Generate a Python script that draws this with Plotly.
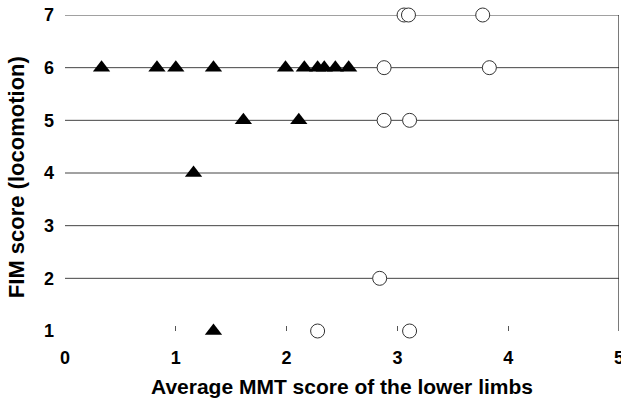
import plotly.graph_objects as go

# Triangles (filled)
tri_x = [0.33, 0.83, 1.00, 1.34, 1.99, 2.16, 2.28, 2.34, 2.44, 2.56, 1.61, 2.11, 1.16, 1.34]
tri_y = [6, 6, 6, 6, 6, 6, 6, 6, 6, 6, 5, 5, 4, 1]
# Circles (open)
cir_x = [3.06, 3.10, 3.77, 2.88, 3.83, 2.88, 3.11, 2.84, 2.28, 3.11]
cir_y = [7, 7, 7, 6, 6, 5, 5, 2, 1, 1]

x_ticks = [0, 1, 2, 3, 4, 5]
y_ticks = [1, 2, 3, 4, 5, 6, 7]
grid_y = [2, 3, 4, 5, 6, 7]

x_title = "Average MMT score of the lower limbs"
y_title = "FIM score (locomotion)"

FAM = "Liberation Sans, Arial, sans-serif"

fig = go.Figure()
for gy in grid_y:
    fig.add_shape(type="line", xref="x", yref="y", x0=0, x1=5, y0=gy, y1=gy,
                  line=dict(color="#444444", width=1), layer="below")
fig.add_shape(type="line", xref="x", yref="y", x0=5, x1=5, y0=0.97, y1=7,
              line=dict(color="#222222", width=1.2), layer="below")

fig.add_trace(go.Scatter(x=tri_x, y=tri_y, mode="markers", cliponaxis=False,
                         marker=dict(symbol="triangle-up", size=15, color="black",
                                     line=dict(width=0))))
fig.add_trace(go.Scatter(x=cir_x, y=cir_y, mode="markers", cliponaxis=False,
                         marker=dict(symbol="circle", size=14, color="white",
                                     line=dict(width=1, color="#333333"))))

fig.add_annotation(text="<b>" + x_title + "</b>", xref="paper", yref="paper",
                   x=0.5, y=-0.177, xanchor="center", yanchor="middle", showarrow=False,
                   font=dict(size=21, family=FAM, color="black"))
fig.add_annotation(text="<b>" + y_title + "</b>", xref="paper", yref="paper",
                   x=-0.0884, y=0.487, xanchor="center", yanchor="middle", showarrow=False,
                   textangle=-90, font=dict(size=22, family=FAM, color="black"))

fig.update_layout(
    width=621, height=402,
    margin=dict(l=65, r=2, t=15, b=71),
    paper_bgcolor="white", plot_bgcolor="white",
    showlegend=False,
    font=dict(family=FAM, color="black"),
    xaxis=dict(range=[0, 5], tickvals=x_ticks, ticktext=["<b>%d</b>" % v for v in x_ticks],
               showgrid=False, zeroline=False, showline=False, automargin=False,
               ticks="inside", ticklen=5, tickwidth=1, tickcolor="#555555",
               ticklabelstandoff=14, ticklabeloverflow="allow",
               tickfont=dict(size=18, family=FAM, color="black")),
    yaxis=dict(range=[1, 7], tickvals=y_ticks, ticktext=["<b>%d</b>" % v for v in y_ticks],
               showgrid=False, zeroline=False, showline=False, automargin=False,
               ticks="", ticklabelstandoff=10, ticklabeloverflow="allow",
               tickfont=dict(size=18, family=FAM, color="black")),
)

fig.write_html("out.html", config={"displayModeBar": False},
               post_script="document.body.style.margin='0';document.body.style.overflow='hidden';")
